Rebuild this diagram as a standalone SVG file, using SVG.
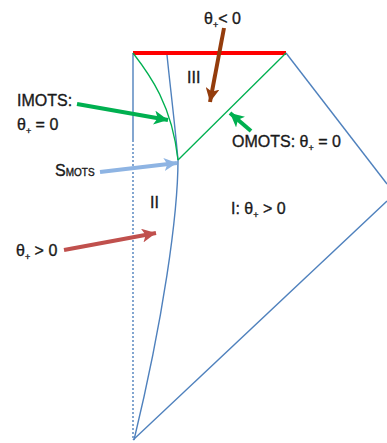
<svg xmlns="http://www.w3.org/2000/svg" width="387" height="443" viewBox="0 0 387 443">
  <style>
    .lbl { font-family: "Liberation Sans", Arial, sans-serif; font-size: 16px; fill: #1a1a1a; stroke: #1a1a1a; stroke-width: 0.35; }
    .sub { font-size: 9px; }
    .blue { fill: none; stroke: #4F81BD; stroke-width: 1.4; }
    .green { fill: none; stroke: #00B050; stroke-width: 1.3; }
    .arrow { fill: none; stroke-width: 4; stroke-linecap: butt; }
  </style>
  <defs>
    <marker id="headGreen" viewBox="0 0 10 10" refX="10" refY="5" markerWidth="14" markerHeight="14" markerUnits="userSpaceOnUse" orient="auto">
      <path d="M0,0 L10,5 L0,10 L2.5,5 Z" fill="#00B050"/>
    </marker>
    <marker id="headBrown" viewBox="0 0 10 10" refX="10" refY="5" markerWidth="14" markerHeight="14" markerUnits="userSpaceOnUse" orient="auto">
      <path d="M0,0 L10,5 L0,10 L2.5,5 Z" fill="#943C0C"/>
    </marker>
    <marker id="headLight" viewBox="0 0 10 10" refX="10" refY="5" markerWidth="13" markerHeight="13" markerUnits="userSpaceOnUse" orient="auto">
      <path d="M0,0 L10,5 L0,10 L2.5,5 Z" fill="#8EB4E3"/>
    </marker>
    <marker id="headRed" viewBox="0 0 10 10" refX="10" refY="5" markerWidth="14" markerHeight="14" markerUnits="userSpaceOnUse" orient="auto">
      <path d="M0,0 L10,5 L0,10 L2.5,5 Z" fill="#C0504D"/>
    </marker>
  </defs>

  <!-- spacetime region boundaries -->
  <g id="regions">
    <!-- centre of symmetry r = 0 -->
    <line class="blue" x1="133" y1="53" x2="133" y2="140"/>
    <line class="blue" x1="133" y1="140" x2="133" y2="440" stroke-dasharray="2 2"/>
    <!-- null boundaries -->
    <line class="blue" x1="286" y1="53" x2="387" y2="184"/>
    <line class="blue" x1="133" y1="440" x2="387" y2="201"/>
    <!-- MOTS surface -->
    <path class="blue" d="M167,55 C170,85 175,125 178,160 C178,215 163,320 134,440"/>
    <!-- singularity -->
    <line x1="133" y1="53" x2="286" y2="53" stroke="#FF0000" stroke-width="4"/>
    <!-- inner and outer MOTS -->
    <path class="green" d="M133,53 C150,75 172,105 178,160"/>
    <line class="green" x1="178" y1="160" x2="286" y2="53"/>
  </g>

  <!-- annotation arrows -->
  <g id="connectors">
    <line class="arrow" stroke="#943C0C" x1="224" y1="28" x2="210" y2="102" marker-end="url(#headBrown)"/>
    <line class="arrow" stroke="#00B050" x1="77" y1="104" x2="168" y2="120" marker-end="url(#headGreen)"/>
    <line class="arrow" stroke="#00B050" x1="251" y1="131" x2="230" y2="113" marker-end="url(#headGreen)"/>
    <line class="arrow" stroke="#8EB4E3" x1="100" y1="172" x2="177" y2="163" marker-end="url(#headLight)"/>
    <line class="arrow" stroke="#C0504D" x1="64" y1="250" x2="156" y2="233" marker-end="url(#headRed)"/>
  </g>

  <!-- labels -->
  <g id="label-trapped">
    <text class="lbl" x="204" y="24">θ<tspan class="sub" dy="4">+</tspan><tspan dy="-4">&lt; 0</tspan></text>
  </g>
  <g id="label-III">
    <text class="lbl" x="187" y="83" font-size="14">III</text>
  </g>
  <g id="label-imots">
    <text class="lbl" x="17" y="106">IMOTS:</text>
    <text class="lbl" x="17" y="130">θ<tspan class="sub" dy="4">+</tspan><tspan dy="-4"> = 0</tspan></text>
  </g>
  <g id="label-omots">
    <text class="lbl" x="232" y="147">OMOTS: θ<tspan class="sub" dy="4">+</tspan><tspan dy="-4"> = 0</tspan></text>
  </g>
  <g id="label-smots">
    <text class="lbl" x="55" y="176" font-size="15">S<tspan font-size="10">MOTS</tspan></text>
  </g>
  <g id="label-II">
    <text class="lbl" x="150" y="208" font-size="14">II</text>
  </g>
  <g id="label-I">
    <text class="lbl" x="231" y="214">I: θ<tspan class="sub" dy="4">+</tspan><tspan dy="-4"> &gt; 0</tspan></text>
  </g>
  <g id="label-untrapped">
    <text class="lbl" x="16" y="256">θ<tspan class="sub" dy="4">+</tspan><tspan dy="-4"> &gt; 0</tspan></text>
  </g>
</svg>
